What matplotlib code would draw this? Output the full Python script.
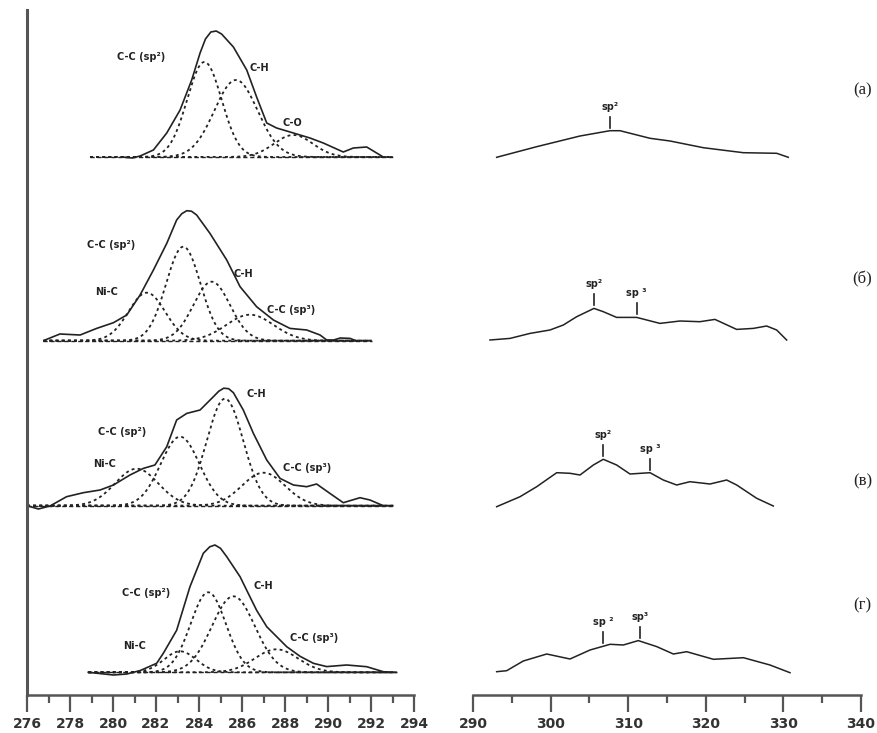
"""
C 1s XPS spectra with peak deconvolution (left) and the energy-loss region (right)
for four samples (а)-(г).
"""

import numpy as np
import matplotlib.pyplot as plt

panel_labels = ["(а)", "(б)", "(в)", "(г)"]

# --- C 1s envelope, binding energy (eV) / intensity (arb.) ---
c1s_e_a = [280.4, 280.9, 281.26, 281.88, 282.50, 283.12, 283.66, 284.05, 284.3, 284.55, 284.8,
           285.05, 285.60, 286.22, 286.68, 287.15, 287.61, 288.39, 289.16, 289.78, 290.71,
           291.18, 291.80, 292.57]
c1s_i_a = [0, -1, 1, 7, 24, 47, 77, 104, 118, 125, 126,
           123, 110, 87, 60, 34, 29, 24, 19, 14, 5,
           9, 10, 0]

c1s_e_b = [276.84, 277.53, 278.47, 279.24, 280.02, 280.64, 281.26, 281.88, 282.50, 282.96, 283.2,
           283.43, 283.65, 283.89, 284.51, 285.29, 285.91, 286.68, 287.46, 288.23, 289.01,
           289.63, 289.94, 290.26, 290.57, 291.03, 291.26]
c1s_i_b = [0.7, 6.7, 5.7, 12.3, 18, 25.7, 45.7, 70.7, 97.3, 120.7, 127,
           130, 129.5, 125.7, 107.3, 80.7, 54, 34, 20.7, 12.3, 10.7,
           5.7, 0.7, 0.7, 2.7, 2.3, 0.3]

c1s_e_v = [276.0, 276.53, 277.07, 277.84, 278.62, 279.40, 280.02, 280.79, 281.41, 281.95, 282.50,
           282.96, 283.43, 284.05, 284.67, 284.92, 285.15, 285.38, 285.60, 286.06, 286.53,
           287.15, 287.77, 288.39, 289.01, 289.47, 290.09, 290.71, 291.49, 291.95, 292.57]
c1s_i_v = [0, -3.3, -0.3, 9, 13, 15.7, 20.7, 30.7, 37.3, 40.7, 59,
           85.7, 92.3, 95.7, 109, 114.5, 117.5, 117, 113, 95.7, 72.3,
           45.7, 27.3, 20.7, 19, 21.7, 12.3, 3, 8, 5.7, 0]

c1s_e_g = [278.85, 279.5, 280.02, 280.64, 281.26, 282.03, 282.34, 282.96, 283.58, 284.2, 284.5,
           284.74, 285.0, 285.29, 285.91, 286.22, 286.68, 287.15, 288.08, 288.7, 289.32,
           289.94, 290.87, 291.8, 292.57, 292.9]
c1s_i_g = [0, -1.5, -2.7, -1.7, 1.7, 9, 19, 42, 85.6, 119, 125.5,
           127.3, 124, 115.6, 95.6, 82, 62, 45.6, 25.6, 16, 9,
           5.7, 7.3, 5.6, 0.6, 0]

# background line range (eV)
bg_start = [278.93, 276.76, 276.0, 278.85]
bg_end = [293.02, 292.03, 293.04, 293.19]

# --- fitted components: name, centre (eV), height, sigma (eV) ---
comp_names_a = ["C-C (sp²)", "C-H", "C-O"]
comp_pos_a = [284.25, 285.72, 288.39]
comp_amp_a = [95, 77, 22]
comp_sig_a = [0.8, 1.0, 0.9]

comp_names_b = ["Ni-C", "C-C (sp²)", "C-H", "C-C (sp³)"]
comp_pos_b = [281.57, 283.27, 284.59, 286.37]
comp_amp_b = [48, 94, 59, 26]
comp_sig_b = [0.85, 0.8, 0.85, 1.1]

comp_names_v = ["Ni-C", "C-C (sp²)", "C-H", "C-C (sp³)"]
comp_pos_v = [281.1, 283.12, 285.21, 287.0]
comp_amp_v = [37, 69, 107, 33]
comp_sig_v = [1.0, 0.9, 0.85, 1.0]

comp_names_g = ["Ni-C", "C-C (sp²)", "C-H", "C-C (sp³)"]
comp_pos_g = [283.12, 284.43, 285.6, 287.6]
comp_amp_g = [21, 80, 76, 23]
comp_sig_g = [0.75, 0.82, 1.0, 1.0]

# --- energy-loss region (eV) / intensity ---
loss_e_a = [293.05, 298.2, 303.79, 307.65, 308.94, 312.81, 315.39, 319.68, 324.84, 329.14, 330.63]
loss_i_a = [-0.3, 10.3, 21, 26.3, 26.3, 18.7, 16, 9.3, 4.3, 3.7, -0.3]

loss_e_b = [292.19, 294.77, 297.35, 299.92, 301.64, 303.36, 305.59, 306.79, 308.51, 311.09,
            314.09, 316.67, 319.24, 321.18, 323.97, 326.12, 327.84, 329.13, 330.42]
loss_i_b = [0.7, 2.3, 7.3, 10.7, 15.7, 24, 32.3, 29, 23.3, 23.3,
            17.3, 19.7, 19, 21.3, 11.3, 12.3, 14.7, 10.7, 0.7]

loss_e_v = [293.05, 296.06, 298.21, 300.79, 302.5, 303.79, 305.51, 306.79, 308.51, 310.23,
            312.81, 314.52, 316.24, 317.96, 320.54, 322.69, 323.98, 326.56, 328.70]
loss_i_v = [-1, 9, 19, 33, 32.4, 30.7, 40.7, 46.4, 40.7, 31.7,
            33, 25.7, 20.7, 24, 21.7, 25.7, 20.7, 7.4, -0.3]

loss_e_g = [293.05, 294.34, 296.48, 299.5, 302.5, 305.08, 307.66, 309.37, 311.30, 313.67,
            315.82, 317.54, 320.98, 324.85, 328.27, 330.85]
loss_i_g = [0.6, 1.6, 11.3, 18.3, 13.3, 22.3, 28, 27.3, 31.7, 25.7,
            18.3, 20.6, 13, 14.6, 7.3, -0.4]

# sp2 / sp3 marks
mark_pos_a = [307.65]
mark_names_a = ["sp²"]
mark_pos_b = [305.59, 311.09]
mark_names_b = ["sp²", "sp ³"]
mark_pos_v = [306.79, 312.81]
mark_names_v = ["sp²", "sp ³"]
mark_pos_g = [306.8, 311.5]
mark_names_g = ["sp ²", "sp³"]

c1s = [(c1s_e_a, c1s_i_a), (c1s_e_b, c1s_i_b), (c1s_e_v, c1s_i_v), (c1s_e_g, c1s_i_g)]
comps = [(comp_names_a, comp_pos_a, comp_amp_a, comp_sig_a),
         (comp_names_b, comp_pos_b, comp_amp_b, comp_sig_b),
         (comp_names_v, comp_pos_v, comp_amp_v, comp_sig_v),
         (comp_names_g, comp_pos_g, comp_amp_g, comp_sig_g)]
losses = [(loss_e_a, loss_i_a), (loss_e_b, loss_i_b), (loss_e_v, loss_i_v), (loss_e_g, loss_i_g)]
marks = [(mark_pos_a, mark_names_a), (mark_pos_b, mark_names_b),
         (mark_pos_v, mark_names_v), (mark_pos_g, mark_names_g)]

# layout: vertical offset of each spectrum, label positions (eV, height)
offsets = [538, 354.3, 189.3, 22.7]
comp_label_xy = [
    [(280.19, 100), (286.37, 89), (287.9, 34)],
    [(279.16, 49), (278.78, 96), (285.6, 67), (287.15, 31)],
    [(279.09, 42), (279.32, 74), (286.22, 112), (287.92, 38)],
    [(280.48, 26), (280.40, 79), (286.53, 86), (288.23, 34)],
]
panel_label_dy = [67, 61, 24, 67]

INK = "#222222"
AXC = "#555555"
LBL = dict(fontsize=7, fontweight="bold", color=INK, family="DejaVu Sans")


def style_axis(ax):
    ax.set_ylim(0, 685)
    ax.set_yticks([])
    for s in ("top", "right"):
        ax.spines[s].set_visible(False)
    ax.spines["bottom"].set_linewidth(1.8)
    ax.spines["bottom"].set_color(AXC)
    ax.tick_params(axis="x", which="major", length=12, width=1.6, direction="out",
                   color=AXC, pad=4, labelsize=10, labelcolor="#333333")
    ax.tick_params(axis="x", which="minor", length=6, width=1.6, direction="out", color=AXC)
    for t in ax.get_xticklabels():
        t.set_fontweight("bold")


fig = plt.figure(figsize=(8.78, 7.33), dpi=100)
ax_l = fig.add_axes([27 / 878, 38 / 733, 387 / 878, 685 / 733])
ax_r = fig.add_axes([473 / 878, 38 / 733, 388 / 878, 685 / 733])

# left column: C 1s with components
ax_l.set_xlim(276, 294)
ax_l.set_xticks(np.arange(276, 295, 2))
ax_l.set_xticks(np.arange(277, 294, 2), minor=True)
style_axis(ax_l)
ax_l.spines["left"].set_linewidth(2.2)
ax_l.spines["left"].set_color(AXC)

for k in range(4):
    off = offsets[k]
    e, inten = c1s[k]
    ax_l.plot([bg_start[k], bg_end[k]], [off, off], color=INK, lw=1.0, ls=(0, (3, 2)))
    grid = np.linspace(bg_start[k], bg_end[k], 400)
    names, pos, amp, sig = comps[k]
    for j in range(len(names)):
        g = amp[j] * np.exp(-0.5 * ((grid - pos[j]) / sig[j]) ** 2)
        ax_l.plot(grid, off + g, color=INK, lw=1.3, ls=(0, (1.6, 1.8)))
        lx, ly = comp_label_xy[k][j]
        ax_l.text(lx, off + ly, names[j], ha="left", va="center", **LBL)
    ax_l.plot(e, np.array(inten) + off, color=INK, lw=1.2)

# right column: energy-loss region
ax_r.set_xlim(290, 340)
ax_r.set_xticks(np.arange(290, 341, 10))
ax_r.set_xticks(np.arange(295, 340, 10), minor=True)
style_axis(ax_r)
ax_r.spines["left"].set_visible(False)

for k in range(4):
    off = offsets[k]
    e, inten = losses[k]
    ax_r.plot(e, np.array(inten) + off, color=INK, lw=1.1)
    for p, name in zip(*marks[k]):
        yc = np.interp(p, e, inten) + off
        ax_r.plot([p, p], [yc + 3, yc + 14], color=INK, lw=1.2)
        ax_r.text(p, yc + 24, name, ha="center", va="center", **LBL)
    ax_r.text(340.2, off + panel_label_dy[k], panel_labels[k], ha="center", va="center",
              fontsize=12, color=INK, family="Liberation Serif", clip_on=False)

fig.savefig("out.png", dpi=100)
